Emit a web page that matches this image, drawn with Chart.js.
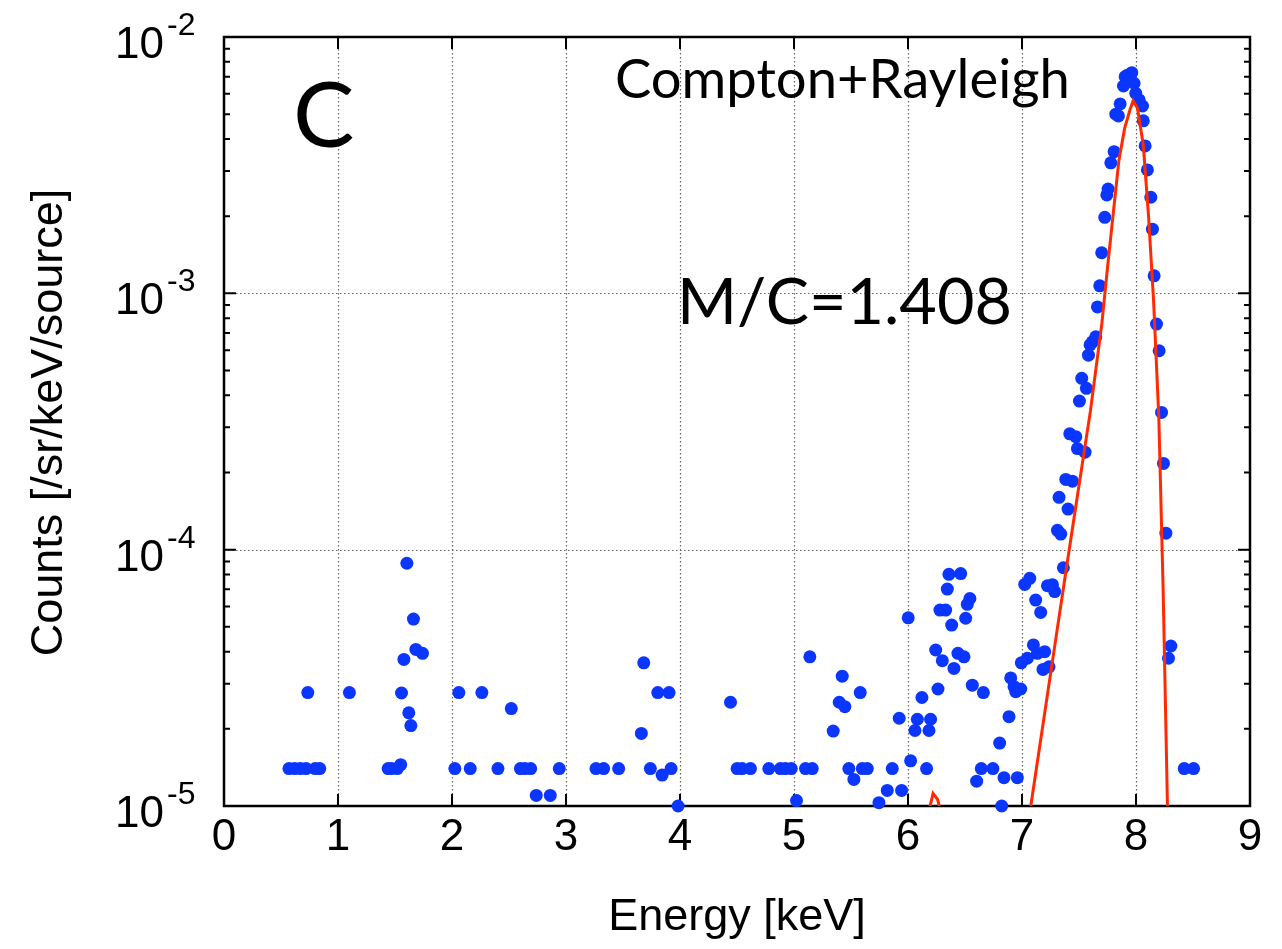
<!DOCTYPE html>
<html>
<head>
<meta charset="utf-8">
<script src="https://cdn.jsdelivr.net/npm/chart.js@4.4.1/dist/chart.umd.min.js"></script>
<style>
  html, body { margin: 0; padding: 0; background: #fff; }
  canvas { display: block; }
</style>
</head>
<body>
<canvas id="spectrum" width="1282" height="949"></canvas>
<script>
// measured spectrum (blue dots)
const measEnergy = [
  0.57, 0.62, 0.67, 0.72, 0.80, 0.84, 0.735, 1.10,
  1.44, 1.47, 1.52, 1.55, 1.557, 1.578, 1.604, 1.621, 1.639, 1.662, 1.683, 1.741,
  2.025, 2.06, 2.16, 2.262, 2.403, 2.52, 2.60, 2.64, 2.69, 2.739, 2.862, 2.941,
  3.263, 3.33, 3.462, 3.661, 3.682, 3.74, 3.805, 3.843, 3.904, 3.922, 3.983,
  4.443, 4.501, 4.545, 4.618, 4.779, 4.881, 4.925, 4.976, 5.022, 5.101, 5.139, 5.160,
  5.344, 5.397, 5.423, 5.446, 5.481, 5.525, 5.581, 5.599, 5.643, 5.745, 5.818, 5.862,
  5.923, 5.944, 6.002, 6.023,
  6.061, 6.082, 6.122, 6.163, 6.184, 6.198, 6.243, 6.263, 6.280, 6.301, 6.330, 6.345,
  6.359, 6.383, 6.403, 6.438, 6.462, 6.491, 6.506, 6.520, 6.543, 6.564, 6.602, 6.643,
  6.661, 6.745, 6.804, 6.822, 6.842, 6.886, 6.901, 6.930, 6.945, 6.959, 6.989, 6.994,
  7.024, 7.047, 7.068, 7.100, 7.120, 7.135, 7.164, 7.184, 7.199, 7.223, 7.237, 7.267,
  7.287, 7.311, 7.325, 7.340, 7.363, 7.384, 7.404, 7.419, 7.442, 7.472, 7.486, 7.504,
  7.524, 7.553, 7.565, 7.583, 7.597, 7.618, 7.647, 7.662, 7.682, 7.699, 7.726, 7.744,
  7.755, 7.779, 7.808, 7.823, 7.846, 7.861, 7.890, 7.905, 7.925, 7.963, 7.983, 7.998,
  8.028, 8.057, 8.064, 8.080, 8.100, 8.130, 8.144, 8.159, 8.180, 8.203, 8.224, 8.241,
  8.262, 8.285, 8.306, 8.423, 8.505
];
const measCounts = [
  1.4e-5, 1.4e-5, 1.4e-5, 1.4e-5, 1.4e-5, 1.4e-5, 2.77e-5, 2.77e-5,
  1.4e-5, 1.4e-5, 1.4e-5, 1.45e-5, 2.76e-5, 3.73e-5, 8.85e-5, 2.31e-5, 2.06e-5, 5.36e-5, 4.08e-5, 3.94e-5,
  1.4e-5, 2.77e-5, 1.4e-5, 2.77e-5, 1.4e-5, 2.4e-5, 1.4e-5, 1.4e-5, 1.4e-5, 1.1e-5, 1.1e-5, 1.4e-5,
  1.4e-5, 1.4e-5, 1.4e-5, 1.92e-5, 3.62e-5, 1.4e-5, 2.77e-5, 1.32e-5, 2.77e-5, 1.4e-5, 1.0e-5,
  2.54e-5, 1.4e-5, 1.4e-5, 1.4e-5, 1.4e-5, 1.4e-5, 1.4e-5, 1.4e-5, 1.05e-5, 1.4e-5, 3.82e-5, 1.4e-5,
  1.96e-5, 2.54e-5, 3.21e-5, 2.44e-5, 1.4e-5, 1.27e-5, 2.77e-5, 1.4e-5, 1.4e-5, 1.03e-5, 1.15e-5, 1.4e-5,
  2.2e-5, 1.15e-5, 5.42e-5, 1.5e-5,
  1.97e-5, 2.18e-5, 2.65e-5, 1.4e-5, 1.97e-5, 2.18e-5, 4.06e-5, 2.86e-5, 5.81e-5, 3.69e-5, 5.81e-5, 7.02e-5,
  8.01e-5, 5.08e-5, 3.44e-5, 3.94e-5, 8.07e-5, 3.82e-5, 5.4e-5, 6.12e-5, 6.45e-5, 2.96e-5, 1.25e-5, 1.4e-5,
  2.77e-5, 1.4e-5, 1.76e-5, 1.0e-5, 1.29e-5, 2.23e-5, 3.16e-5, 2.92e-5, 2.79e-5, 1.29e-5, 2.86e-5, 3.62e-5,
  7.32e-5, 3.77e-5, 7.73e-5, 4.25e-5, 6.36e-5, 3.94e-5, 5.69e-5, 3.41e-5, 4.0e-5, 7.23e-5, 3.49e-5, 7.3e-5,
  6.86e-5, 1.19e-4, 1.6e-4, 1.15e-4, 8.5e-5, 1.88e-4, 1.44e-4, 2.83e-4, 1.85e-4, 2.76e-4, 2.48e-4, 3.8e-4,
  4.66e-4, 2.4e-4, 4.26e-4, 5.74e-4, 6.29e-4, 6.47e-4, 6.77e-4, 8.85e-4, 1.07e-3, 1.44e-3, 1.98e-3, 2.42e-3,
  2.55e-3, 3.23e-3, 3.57e-3, 5.0e-3, 4.92e-3, 5.48e-3, 6.44e-3, 7.0e-3, 7.1e-3, 7.26e-3, 6.6e-3, 6.03e-3,
  5.68e-3, 5.38e-3, 4.71e-3, 3.76e-3, 3.03e-3, 2.37e-3, 1.78e-3, 1.17e-3, 7.59e-4, 5.97e-4, 3.43e-4, 2.17e-4,
  1.16e-4, 3.77e-5, 4.21e-5, 1.4e-5, 1.4e-5
];

// simulated spectrum (red line); null breaks the line
const simEnergy = [6.17, 6.22, 6.26, 6.30, 6.60,
  7.04, 7.08, 7.20, 7.30, 7.40, 7.50, 7.60, 7.70, 7.75, 7.80, 7.85, 7.90, 7.95, 7.975,
  8.013, 8.064, 8.11, 8.154, 8.20, 8.238, 8.276, 8.29];
const simCounts = [9e-6, 1.12e-5, 1.06e-5, 9e-6, null,
  7.7e-6, 1.02e-5, 2.32e-5, 4.6e-5, 9.1e-5, 1.78e-4, 3.47e-4, 7.6e-4, 1.26e-3, 2.04e-3, 3.3e-3, 4.4e-3, 5.25e-3, 5.64e-3,
  5.27e-3, 3.79e-3, 2.0e-3, 9.4e-4, 3.3e-4, 7.0e-5, 1.0e-5, 4e-6];

const xTicks = [0, 1, 2, 3, 4, 5, 6, 7, 8, 9];
const yExponents = [-5, -4, -3, -2];

const xTitle = 'Energy [keV]';
const yTitle = 'Counts [/sr/keV/source]';
const panelLabel = 'C';
const processLabel = 'Compton+Rayleigh';
const ratioLabel = 'M/C=1.408';

const toXY = (xs, ys) => xs.map((v, i) => ({ x: v, y: ys[i] }));

function fitFont(ctx, text, family, width) {
  ctx.font = '100px ' + family;
  return 100 * width / ctx.measureText(text).width;
}

const frame = {
  id: 'frame',
  beforeDatasetsDraw(chart) {
    const { ctx, chartArea: a, scales: { x, y } } = chart;
    ctx.save();
    // dotted grid
    ctx.strokeStyle = '#666';
    ctx.lineWidth = 1.2;
    ctx.setLineDash([1.5, 2.5]);
    xTicks.slice(1, -1).forEach(v => {
      const px = Math.round(x.getPixelForValue(v)) + 0.5;
      ctx.beginPath(); ctx.moveTo(px, a.top); ctx.lineTo(px, a.bottom); ctx.stroke();
    });
    yExponents.slice(1, -1).forEach(e => {
      const py = Math.round(y.getPixelForValue(Math.pow(10, e))) + 0.5;
      ctx.beginPath(); ctx.moveTo(a.left, py); ctx.lineTo(a.right, py); ctx.stroke();
    });
    ctx.setLineDash([]);
    // ticks, pointing inward
    ctx.strokeStyle = '#000';
    ctx.lineWidth = 2;
    const major = 12, minor = 6;
    xTicks.forEach(v => {
      const px = x.getPixelForValue(v);
      ctx.beginPath();
      ctx.moveTo(px, a.bottom); ctx.lineTo(px, a.bottom - major);
      ctx.moveTo(px, a.top); ctx.lineTo(px, a.top + major);
      ctx.stroke();
    });
    yExponents.forEach(e => {
      for (let k = 1; k <= 9; k++) {
        const val = k * Math.pow(10, e);
        if (val > 1e-2 * 1.0001) break;
        const py = y.getPixelForValue(val);
        const len = k === 1 ? major : minor;
        ctx.beginPath();
        ctx.moveTo(a.left, py); ctx.lineTo(a.left + len, py);
        ctx.moveTo(a.right, py); ctx.lineTo(a.right - len, py);
        ctx.stroke();
      }
    });
    // box
    ctx.lineWidth = 2.5;
    ctx.strokeRect(a.left, a.top, a.right - a.left, a.bottom - a.top);
    ctx.restore();
  },
  afterDraw(chart) {
    const { ctx, chartArea: a, scales: { x, y } } = chart;
    ctx.save();
    ctx.fillStyle = '#000';
    // x tick labels
    ctx.font = '44px "Liberation Sans", Arial, sans-serif';
    ctx.textAlign = 'center';
    ctx.textBaseline = 'alphabetic';
    xTicks.forEach(v => ctx.fillText(String(v), x.getPixelForValue(v), a.bottom + 44));
    // y tick labels 10^e
    yExponents.forEach(e => {
      const py = y.getPixelForValue(Math.pow(10, e));
      ctx.font = '44px "Liberation Sans", Arial, sans-serif';
      ctx.textAlign = 'right';
      ctx.fillText('10', a.left - 60, py + 21);
      ctx.font = '32px "Liberation Sans", Arial, sans-serif';
      ctx.textAlign = 'left';
      ctx.fillText(String(e), a.left - 57, py - 2);
    });
    // axis titles
    ctx.font = '45px "Liberation Sans", Arial, sans-serif';
    ctx.textAlign = 'center';
    ctx.fillText(xTitle, (a.left + a.right) / 2, a.bottom + 124);
    ctx.save();
    ctx.translate(62, (a.top + a.bottom) / 2 + 1);
    ctx.rotate(-Math.PI / 2);
    ctx.fillText(yTitle, 0, 0);
    ctx.restore();
    // annotations
    const fam = 'Lato, "Open Sans", sans-serif';
    ctx.textAlign = 'left';
    ctx.font = '92px ' + fam;
    ctx.fillText(panelLabel, 293, 147);
    let s = fitFont(ctx, processLabel, fam, 455);
    ctx.font = s + 'px ' + fam;
    ctx.fillText(processLabel, 615, 98);
    s = fitFont(ctx, ratioLabel, fam, 335);
    ctx.font = s + 'px ' + fam;
    ctx.fillText(ratioLabel, 677, 324);
    ctx.restore();
  }
};

new Chart(document.getElementById('spectrum'), {
  type: 'scatter',
  data: {
    datasets: [
      {
        label: 'simulation',
        data: toXY(simEnergy, simCounts),
        showLine: true,
        spanGaps: false,
        borderColor: '#ff2a00',
        borderWidth: 3,
        pointRadius: 0,
        fill: false
      },
      {
        label: 'measurement',
        data: toXY(measEnergy, measCounts),
        backgroundColor: '#0b36ff',
        borderColor: '#0b36ff',
        borderWidth: 0,
        pointRadius: 6.5,
        clip: false
      }
    ]
  },
  options: {
    responsive: false,
    animation: false,
    layout: { padding: { left: 224, top: 37, right: 32, bottom: 143 } },
    plugins: { legend: { display: false }, tooltip: { enabled: false } },
    scales: {
      x: {
        type: 'linear', min: 0, max: 9,
        ticks: { display: false },
        grid: { display: false, drawTicks: false },
        border: { display: false }
      },
      y: {
        type: 'logarithmic', min: 1e-5, max: 1e-2,
        ticks: { display: false },
        grid: { display: false, drawTicks: false },
        border: { display: false }
      }
    }
  },
  plugins: [frame]
});
</script>
</body>
</html>
